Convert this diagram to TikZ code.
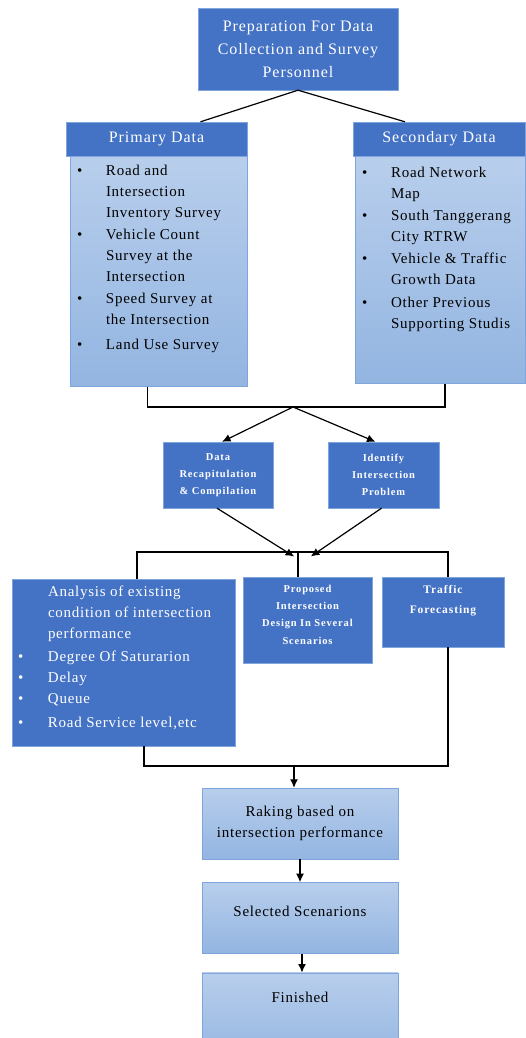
\documentclass[tikz,border=0pt]{standalone}
\usepackage{fontspec}
\setmainfont{Liberation Serif}
\newfontfamily\bodyfont[LetterSpace=5]{Liberation Serif}
\newfontfamily\headfont[LetterSpace=6]{Liberation Serif}
\newfontfamily\tinyfont[LetterSpace=8]{Liberation Serif}
\usetikzlibrary{positioning}
\usetikzlibrary{arrows.meta}

\definecolor{darkblue}{HTML}{4472C4}
\definecolor{edgeblue}{HTML}{7FA6DC}
\definecolor{lighttop}{HTML}{B8CEEC}
\definecolor{lightbot}{HTML}{93B5E1}

\tikzset{
    darkbox/.style={draw=edgeblue, fill=darkblue, text=white, align=center, inner sep=2pt},
    lightbox/.style={draw=edgeblue, top color=lighttop, bottom color=lightbot, align=center, inner sep=2pt},
    link/.style={draw, line width=1.2pt},
    arr/.style={link, -{Latex[length=3mm, width=2.8mm]}},
    headtxt/.style={font=\headfont\fontsize{16}{23}\selectfont},
    bodytxt/.style={font=\bodyfont\fontsize{15}{21}\selectfont},
    tinytxt/.style={font=\tinyfont\bfseries\fontsize{10.5}{17}\selectfont},
    listtxt/.style={bodytxt, anchor=north west, inner sep=0pt, align=left}
}

\begin{document}
\begin{tikzpicture}[x=1pt,y=-1pt]
    \useasboundingbox (0,0) rectangle (526,1038);

    \node[darkbox, headtxt, minimum width=200, minimum height=82] (prep) at (298,49)
        {Preparation For Data\\Collection and Survey\\Personnel};

    % data sources
    \node[darkbox, headtxt, minimum width=181, minimum height=34] (primh) at (156.5,139) {Primary Data};
    \node[lightbox, anchor=north east, minimum width=177, minimum height=230] (primb) at (primh.south east) {};
    \node[listtxt] (primlist) at ([xshift=7,yshift=-4]primb.north west) {%
        \begin{tabular}{@{}p{29pt}@{}l@{}}
            \textbullet & Road and\\
                        & Intersection\\
                        & Inventory Survey\\[1pt]
            \textbullet & Vehicle Count\\
                        & Survey at the\\
                        & Intersection\\[1pt]
            \textbullet & Speed Survey at\\
                        & the Intersection\\[4pt]
            \textbullet & Land Use Survey
        \end{tabular}};

    \node[darkbox, headtxt, minimum width=172, minimum height=34] (sech) at (439,139) {Secondary Data};
    \node[lightbox, anchor=north east, minimum width=170, minimum height=227] (secb) at (sech.south east) {};
    \node[listtxt] (seclist) at ([xshift=7,yshift=-6]secb.north west) {%
        \begin{tabular}{@{}p{29pt}@{}l@{}}
            \textbullet & Road Network\\
                        & Map\\[1pt]
            \textbullet & South Tanggerang\\
                        & City RTRW\\[1pt]
            \textbullet & Vehicle \& Traffic\\
                        & Growth Data\\[2pt]
            \textbullet & Other Previous\\
                        & Supporting Studis
        \end{tabular}};

    \draw[link] (prep.south) -- ([xshift=44]primh.north);
    \draw[link] (prep.south) -- ([xshift=-34]sech.north);

    % processing
    \node[darkbox, tinytxt, minimum width=110, minimum height=66] (recap) at (218,475)
        {Data\\Recapitulation\\\& Compilation};
    \node[darkbox, tinytxt, minimum width=111, minimum height=66] (ident) at (383.5,475)
        {Identify\\Intersection\\Problem};

    \coordinate (split) at (293,407);
    \draw[link] ([xshift=-11]primb.south) |- (split) -| ([xshift=5]secb.south);
    \draw[arr] (split) -- ([xshift=4]recap.north);
    \draw[arr] (split) -- ([xshift=-8]ident.north);

    % analysis
    \node[darkbox, minimum width=223, minimum height=167] (anal) at (123.5,662.5) {};
    \node[listtxt, text=white] (anallist) at ([xshift=6,yshift=-3]anal.north west) {%
        \begin{tabular}{@{}p{30pt}@{}l@{}}
                        & Analysis of existing\\
                        & condition of intersection\\
                        & performance\\[2pt]
            \textbullet & Degree Of Saturarion\\
            \textbullet & Delay\\
            \textbullet & Queue\\[3pt]
            \textbullet & Road Service level,etc
        \end{tabular}};
    \node[darkbox, minimum width=129, minimum height=86, anchor=north] (prop) at (307.5,577) {};
    \node[tinytxt, text=white, align=center, anchor=north] (proptxt) at ([yshift=-5]prop.north)
        {Proposed\\Intersection\\Design In Several\\[1pt]Scenarios};
    \node[darkbox, minimum width=122, minimum height=70, anchor=north] (fore) at (443,577) {};
    \node[tinytxt, font=\tinyfont\bfseries\fontsize{11.5}{20}\selectfont, text=white, align=center, anchor=north]
        (foretxt) at ([yshift=-5]fore.north) {Traffic\\Forecasting};

    \coordinate (join) at (302,552);
    \draw[arr, shorten >=1pt] ([xshift=-1]recap.south) -- ([xshift=-7,yshift=-5]join);
    \draw[arr, shorten >=1pt] ([xshift=-2]ident.south) -- ([xshift=8,yshift=-5]join);
    \draw[link] ([xshift=13.5]anal.north) |- (join) -| ([xshift=5]fore.north);
    \draw[link] (join -| prop.north) ++(-9.5,0) -- ([xshift=-9.5]prop.north);

    % result
    \node[lightbox, bodytxt, minimum width=196, minimum height=71] (rank) at (300,823.5)
        {Raking based on\\intersection performance};
    \node[lightbox, minimum width=196, minimum height=71, below=23pt of rank] (select) {};
    \node[bodytxt, anchor=north] (selecttxt) at ([yshift=-20]select.north) {Selected Scenarions};
    \node[lightbox, minimum width=196, minimum height=90, below=19pt of select] (finish) {};
    \node[bodytxt, anchor=north] (finishtxt) at ([yshift=-16]finish.north) {Finished};

    \coordinate (gather) at (294,766);
    \draw[link] ([xshift=20.5]anal.south) |- (gather) -| ([xshift=5]fore.south);
    \draw[arr] (gather) -- (gather |- rank.north);
    \draw[arr] (rank.south) -- (select.north);
    \draw[arr] ([xshift=2]select.south) -- ([xshift=2]finish.north);
\end{tikzpicture}
\end{document}
